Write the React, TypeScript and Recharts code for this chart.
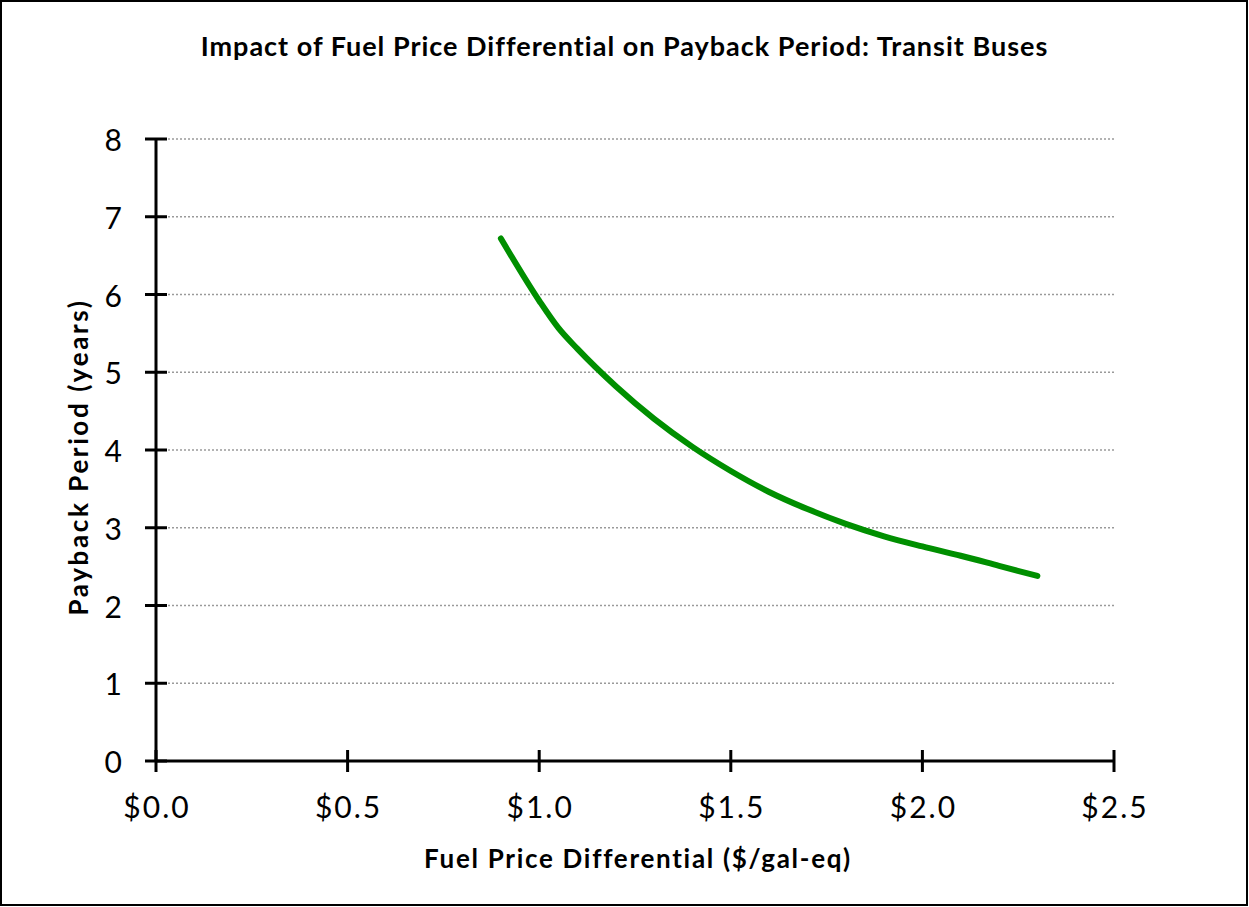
import React from "react";
import { LineChart, Line, XAxis, YAxis, CartesianGrid } from "recharts";

// fuel price differential ($/gal-eq) vs payback period (years)
const priceDiff = [0.9, 1.0, 1.05, 1.1, 1.2, 1.3, 1.4, 1.5, 1.6, 1.7, 1.8, 1.9, 2.0, 2.1, 2.2, 2.3];
const payback = [6.72, 5.92, 5.57, 5.3, 4.82, 4.4, 4.04, 3.73, 3.46, 3.24, 3.05, 2.89, 2.76, 2.64, 2.51, 2.38];

const xTicks = [0, 0.5, 1.0, 1.5, 2.0, 2.5];
const yTicks = [0, 1, 2, 3, 4, 5, 6, 7, 8];

const TITLE = "Impact of Fuel Price Differential on Payback Period: Transit Buses";
const X_LABEL = "Fuel Price Differential ($/gal-eq)";
const Y_LABEL = "Payback Period (years)";

const W = 1249;
const H = 907;
const AXIS_X = 156; // y axis line position
const TOP = 139;
const RIGHT = 135;
const X_AXIS_H = 60;
const BOTTOM = 146 - X_AXIS_H;
const AXIS_Y = H - 146; // x axis line position

const FONT = "Lato, 'Open Sans', sans-serif";

const data = priceDiff.map((x, i) => ({ x, y: payback[i] }));

function YTick(props: any) {
  const { y, payload } = props;
  return (
    <g>
      <line x1={AXIS_X - 11} x2={AXIS_X + 11} y1={y} y2={y} stroke="#000" strokeWidth={3} />
      <text
        x={AXIS_X - 34}
        y={y}
        textAnchor="end"
        dominantBaseline="central"
        fontSize={30}
        fontFamily={FONT}
        fill="#000"
      >
        {payload.value}
      </text>
    </g>
  );
}

function XTick(props: any) {
  const { x, payload } = props;
  return (
    <g>
      <line x1={x} x2={x} y1={AXIS_Y - 11} y2={AXIS_Y + 11} stroke="#000" strokeWidth={3} />
      <text
        x={x + 1}
        y={AXIS_Y + 45}
        textAnchor="middle"
        dominantBaseline="central"
        fontSize={30}
        letterSpacing={2}
        fontFamily={FONT}
        fill="#000"
      >
        {"$" + Number(payload.value).toFixed(1)}
      </text>
    </g>
  );
}

export default function App() {
  return (
    <div
      style={{
        position: "absolute",
        left: 0,
        top: 0,
        width: W,
        height: H,
        background: "#fff",
        fontFamily: FONT,
      }}
    >
      <div
        style={{
          position: "absolute",
          left: 0,
          top: 0,
          width: W - 1,
          height: H - 1,
          boxSizing: "border-box",
          border: "2px solid #000",
        }}
      />
      <div
        style={{
          position: "absolute",
          left: 0,
          width: W,
          top: 29,
          textAlign: "center",
          fontSize: 27,
          letterSpacing: 1,
          fontWeight: 700,
          lineHeight: "34px",
        }}
      >
        {TITLE}
      </div>
      <LineChart
        width={W}
        height={H}
        data={data}
        margin={{ top: TOP, right: RIGHT, bottom: BOTTOM, left: 0 }}
      >
        <CartesianGrid
          vertical={false}
          stroke="#9a9a9a"
          strokeDasharray="2 2"
          strokeWidth={1.5}
        />
        <XAxis
          dataKey="x"
          type="number"
          domain={[0, 2.5]}
          ticks={xTicks}
          height={X_AXIS_H}
          axisLine={{ stroke: "#000", strokeWidth: 3 }}
          tickLine={false}
          tick={<XTick />}
          interval={0}
        />
        <YAxis
          type="number"
          domain={[0, 8]}
          ticks={yTicks}
          width={AXIS_X}
          axisLine={{ stroke: "#000", strokeWidth: 3 }}
          tickLine={false}
          tick={<YTick />}
          interval={0}
        />
        <Line
          type="monotone"
          dataKey="y"
          stroke="#008f00"
          strokeWidth={6}
          strokeLinecap="round"
          dot={false}
          isAnimationActive={false}
        />
      </LineChart>
      <div
        style={{
          position: "absolute",
          left: 0,
          width: 1276,
          top: 842,
          textAlign: "center",
          fontSize: 26,
          letterSpacing: 1.7,
          fontWeight: 700,
          lineHeight: "32px",
        }}
      >
        {X_LABEL}
      </div>
      <div
        style={{
          position: "absolute",
          left: 78 - 200,
          top: 457 - 16,
          width: 400,
          height: 32,
          textAlign: "center",
          fontSize: 26,
          letterSpacing: 2.6,
          fontWeight: 700,
          lineHeight: "32px",
          transform: "rotate(-90deg)",
        }}
      >
        {Y_LABEL}
      </div>
    </div>
  );
}
